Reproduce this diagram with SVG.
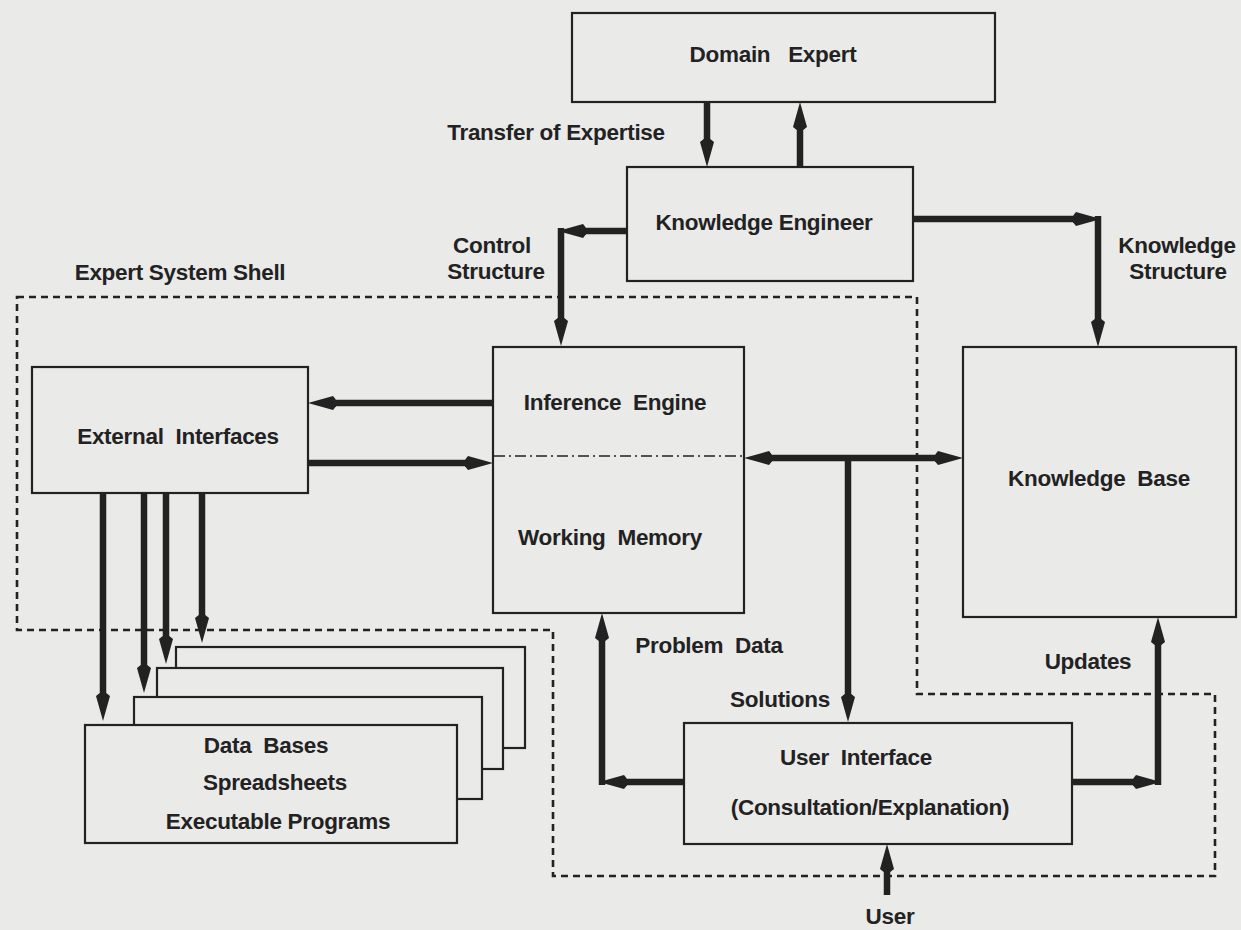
<svg xmlns="http://www.w3.org/2000/svg" width="1241" height="930" viewBox="0 0 1241 930">
  <defs>
    <style>
      .bg { fill: #eaeae9; }
      .box { fill: #eaeae9; stroke: #222; stroke-width: 2.2; }
      .conn { fill: none; stroke: #222; stroke-width: 6.5; stroke-linecap: butt; }
      .shell { fill: none; stroke: #222; stroke-width: 2.6; stroke-dasharray: 7 5; }
      .divider { fill: none; stroke: #222; stroke-width: 1.3; stroke-dasharray: 11 4 2 4; }
      text { font-family: "Liberation Sans", Arial, Helvetica, sans-serif; font-weight: bold; font-size: 22.5px; fill: #222; text-anchor: middle; letter-spacing: -0.3px; }
    </style>
    <!-- spear-shaped arrowhead; the line ends at its base, tip lies 28 units further on -->
    <marker id="ah" viewBox="0 -8 30 16" refX="0" refY="0" markerWidth="30" markerHeight="16" markerUnits="userSpaceOnUse" orient="auto-start-reverse">
      <path d="M0,-3.3 L3,-7 L28,0 L3,7 L0,3.3 Z" fill="#222"/>
    </marker>
  </defs>

  <rect class="bg" x="0" y="0" width="1241" height="930"/>

  <!-- expert system shell boundary -->
  <g id="shell">
    <path class="shell" d="M17,297 H917 V694 H1215 V876 H553 V630 H17 Z"/>
    <text x="180" y="280">Expert System Shell</text>
  </g>

  <!-- stacked external resources (back to front) -->
  <g id="resources">
    <rect class="box" x="176" y="647" width="349" height="101"/>
    <rect class="box" x="157" y="668" width="346" height="101"/>
    <rect class="box" x="134" y="697" width="348" height="102"/>
    <rect class="box" x="85" y="725" width="372" height="118"/>
    <text x="266" y="753">Data&#160; Bases</text>
    <text x="275" y="790">Spreadsheets</text>
    <text x="278" y="829">Executable Programs</text>
  </g>

  <g id="domain-expert">
    <rect class="box" x="572" y="13" width="423" height="89"/>
    <text x="773" y="62">Domain&#160;&#160; Expert</text>
  </g>

  <g id="knowledge-engineer">
    <rect class="box" x="627" y="167" width="286" height="114"/>
    <text x="764" y="230">Knowledge Engineer</text>
  </g>

  <g id="external-interfaces">
    <rect class="box" x="32" y="367" width="276" height="126"/>
    <text x="178" y="444">External&#160; Interfaces</text>
  </g>

  <g id="inference-engine">
    <rect class="box" x="493" y="347" width="251" height="266"/>
    <line class="divider" x1="494" y1="456" x2="743" y2="456"/>
    <text x="615" y="410">Inference&#160; Engine</text>
    <text x="610" y="545">Working&#160; Memory</text>
  </g>

  <g id="knowledge-base">
    <rect class="box" x="963" y="347" width="273" height="270"/>
    <text x="1099" y="486">Knowledge&#160; Base</text>
  </g>

  <g id="user-interface">
    <rect class="box" x="684" y="723" width="388" height="121"/>
    <text x="856" y="765">User&#160; Interface</text>
    <text x="870" y="815">(Consultation/Explanation)</text>
  </g>

  <!-- connectors -->
  <g id="connectors">
    <!-- domain expert <-> knowledge engineer -->
    <line class="conn" x1="707" y1="102" x2="707" y2="139" marker-end="url(#ah)"/>
    <line class="conn" x1="800" y1="167" x2="800" y2="130" marker-end="url(#ah)"/>
    <!-- control structure -->
    <line class="conn" x1="627" y1="231" x2="586" y2="231" marker-end="url(#ah)"/>
    <line class="conn" x1="561" y1="228" x2="561" y2="318" marker-end="url(#ah)"/>
    <!-- knowledge structure -->
    <line class="conn" x1="913" y1="219" x2="1073" y2="219" marker-end="url(#ah)"/>
    <line class="conn" x1="1098" y1="216" x2="1098" y2="319" marker-end="url(#ah)"/>
    <!-- inference engine <-> external interfaces -->
    <line class="conn" x1="493" y1="403" x2="336" y2="403" marker-end="url(#ah)"/>
    <line class="conn" x1="308" y1="463" x2="465" y2="463" marker-end="url(#ah)"/>
    <!-- external interfaces -> resources -->
    <line class="conn" x1="103" y1="493" x2="103" y2="693" marker-end="url(#ah)"/>
    <line class="conn" x1="144" y1="493" x2="144" y2="665" marker-end="url(#ah)"/>
    <line class="conn" x1="166" y1="493" x2="166" y2="636" marker-end="url(#ah)"/>
    <line class="conn" x1="202" y1="493" x2="202" y2="615" marker-end="url(#ah)"/>
    <!-- working memory <-> knowledge base, with branch to user interface -->
    <line class="conn" x1="772" y1="458" x2="935" y2="458" marker-start="url(#ah)" marker-end="url(#ah)"/>
    <line class="conn" x1="848" y1="458" x2="848" y2="694" marker-end="url(#ah)"/>
    <!-- problem data -->
    <line class="conn" x1="684" y1="782" x2="627" y2="782" marker-end="url(#ah)"/>
    <line class="conn" x1="602" y1="785" x2="602" y2="641" marker-end="url(#ah)"/>
    <!-- updates -->
    <line class="conn" x1="1072" y1="782" x2="1133" y2="782" marker-end="url(#ah)"/>
    <line class="conn" x1="1158" y1="785" x2="1158" y2="645" marker-end="url(#ah)"/>
    <!-- user -->
    <line class="conn" x1="887" y1="895" x2="887" y2="872" marker-end="url(#ah)"/>
  </g>

  <!-- connector labels -->
  <g id="labels">
    <text x="556" y="140">Transfer of Expertise</text>
    <text x="492" y="253">Control</text>
    <text x="496" y="279">Structure</text>
    <text x="1177" y="253">Knowledge</text>
    <text x="1178" y="279">Structure</text>
    <text x="709" y="653">Problem&#160; Data</text>
    <text x="780" y="707">Solutions</text>
    <text x="1088" y="669">Updates</text>
    <text x="890" y="924">User</text>
  </g>
</svg>
